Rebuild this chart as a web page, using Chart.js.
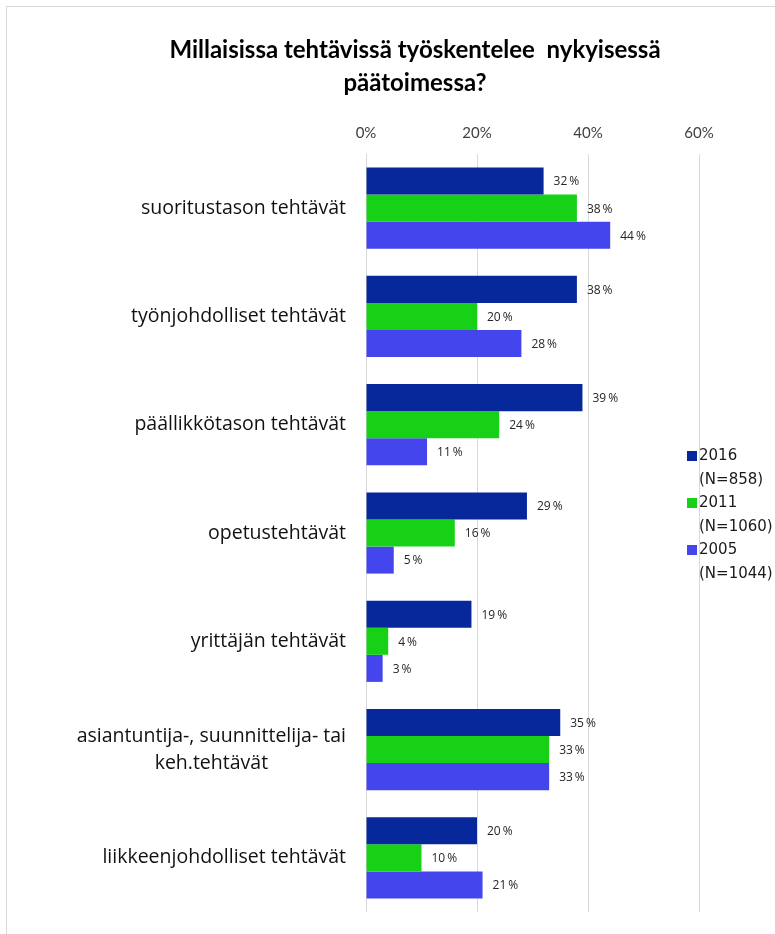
<!DOCTYPE html>
<html>
<head>
<meta charset="utf-8">
<script src="https://cdn.jsdelivr.net/npm/chart.js@4"></script>
<style>
  html, body { margin: 0; padding: 0; background: #fff; }
  #wrap { position: relative; width: 775px; height: 934px; overflow: hidden; }
  #frame { position: absolute; left: 6px; top: 6px; width: 800px; height: 1000px;
           border-top: 1px solid #d9d9d9; border-left: 1px solid #d9d9d9; }
  canvas { position: absolute; left: 0; top: 0; }
  #legend { position: absolute; left: 687px; top: 444px; font-family: "DejaVu Sans", sans-serif;
            font-size: 15px; color: #1a1a1a; line-height: 23.5px; }
  #legend .item { position: relative; padding-left: 12px; }
  #legend .sw { position: absolute; left: 0; top: 7px; width: 10px; height: 10px; }
</style>
</head>
<body>
<div id="wrap">
  <div id="frame"></div>
  <canvas id="chart" width="775" height="934"></canvas>
  <div id="legend"></div>
</div>
<script>
// Kategoriat (ylhäältä alas)
const categories = [
  ["suoritustason tehtävät"],
  ["työnjohdolliset tehtävät"],
  ["päällikkötason tehtävät"],
  ["opetustehtävät"],
  ["yrittäjän tehtävät"],
  ["asiantuntija-, suunnittelija- tai", "keh.tehtävät"],
  ["liikkeenjohdolliset tehtävät"]
];

// Sarjat
const seriesNames = ["2016", "2011", "2005"];
const seriesN = ["(N=858)", "(N=1060)", "(N=1044)"];
const values2016 = [32, 38, 39, 29, 19, 35, 20];
const values2011 = [38, 20, 24, 16, 4, 33, 10];
const values2005 = [44, 28, 11, 5, 3, 33, 21];

// Akselin jaot
const xTicks = [0, 20, 40, 60];

const colors = ["#06289b", "#17d117", "#4545ee"];

const titleLines = ["Millaisissa tehtävissä työskentelee  nykyisessä", "päätoimessa?"];

// Oma piirto: otsikko, vasemman reunan kategoriat ja arvojen tekstit
const customLabels = {
  id: "customLabels",
  beforeDraw(chart) {
    const { ctx } = chart;
    ctx.save();
    ctx.font = "bold 24px Lato, sans-serif";
    ctx.fillStyle = "#000";
    ctx.textAlign = "center";
    ctx.textBaseline = "middle";
    titleLines.forEach((l, i) => ctx.fillText(l, 415, 50 + i * 33));
    ctx.restore();
  },
  afterDatasetsDraw(chart) {
    const { ctx, scales } = chart;
    const yScale = scales.y;

    // kategoriat
    ctx.save();
    ctx.font = "19.5px 'Open Sans', sans-serif";
    ctx.fillStyle = "#111";
    ctx.textBaseline = "middle";
    ctx.textAlign = "center";
    const rightEdge = 346;
    const lineH = 27;
    categories.forEach((lines, i) => {
      const yc = yScale.getPixelForValue(i);
      const widest = Math.max(...lines.map((l) => ctx.measureText(l).width));
      const cx = rightEdge - widest / 2;
      const y0 = yc - ((lines.length - 1) * lineH) / 2;
      lines.forEach((l, j) => ctx.fillText(l, cx, y0 + j * lineH));
    });
    ctx.restore();

    // arvot palkkien päähän
    ctx.save();
    ctx.font = "12px 'Open Sans', sans-serif";
    ctx.fillStyle = "#262626";
    ctx.textAlign = "left";
    ctx.textBaseline = "middle";
    chart.data.datasets.forEach((ds, di) => {
      const meta = chart.getDatasetMeta(di);
      meta.data.forEach((bar, i) => {
        ctx.fillText(ds.data[i] + "\u2009%", bar.x + 10, bar.y + 1);
      });
    });
    ctx.restore();
  }
};

const chart = new Chart(document.getElementById("chart"), {
  type: "bar",
  data: {
    labels: categories.map((c) => c.join(" ")),
    datasets: [
      { label: seriesNames[0], data: values2016, backgroundColor: colors[0] },
      { label: seriesNames[1], data: values2011, backgroundColor: colors[1] },
      { label: seriesNames[2], data: values2005, backgroundColor: colors[2] }
    ]
  },
  options: {
    indexAxis: "y",
    responsive: false,
    animation: false,
    categoryPercentage: 0.75,
    barPercentage: 1,
    layout: { padding: { left: 0, right: 76, top: 112, bottom: 22 } },
    plugins: {
      legend: { display: false },
      tooltip: { enabled: false },
      title: { display: false }
    },
    scales: {
      x: {
        position: "top",
        min: 0,
        max: 60,
        afterBuildTicks: (s) => { s.ticks = xTicks.map((v) => ({ value: v })); },
        grid: { color: "#d9d9d9", drawTicks: false },
        border: { display: false },
        ticks: {
          padding: 12,
          color: "#404040",
          font: { family: "Lato", size: 15 },
          callback: (v) => v + "%"
        }
      },
      y: {
        grid: { display: false },
        border: { display: false },
        ticks: { display: false },
        afterFit: (s) => { s.width = 366; }
      }
    }
  },
  plugins: [customLabels]
});

// HTML-selite (kaksirivinen)
const legend = document.getElementById("legend");
seriesNames.forEach((name, i) => {
  const item = document.createElement("div");
  item.className = "item";
  item.innerHTML = `<span class="sw" style="background:${colors[i]}"></span>${name}<br>${seriesN[i]}`;
  legend.appendChild(item);
});
</script>
</body>
</html>
